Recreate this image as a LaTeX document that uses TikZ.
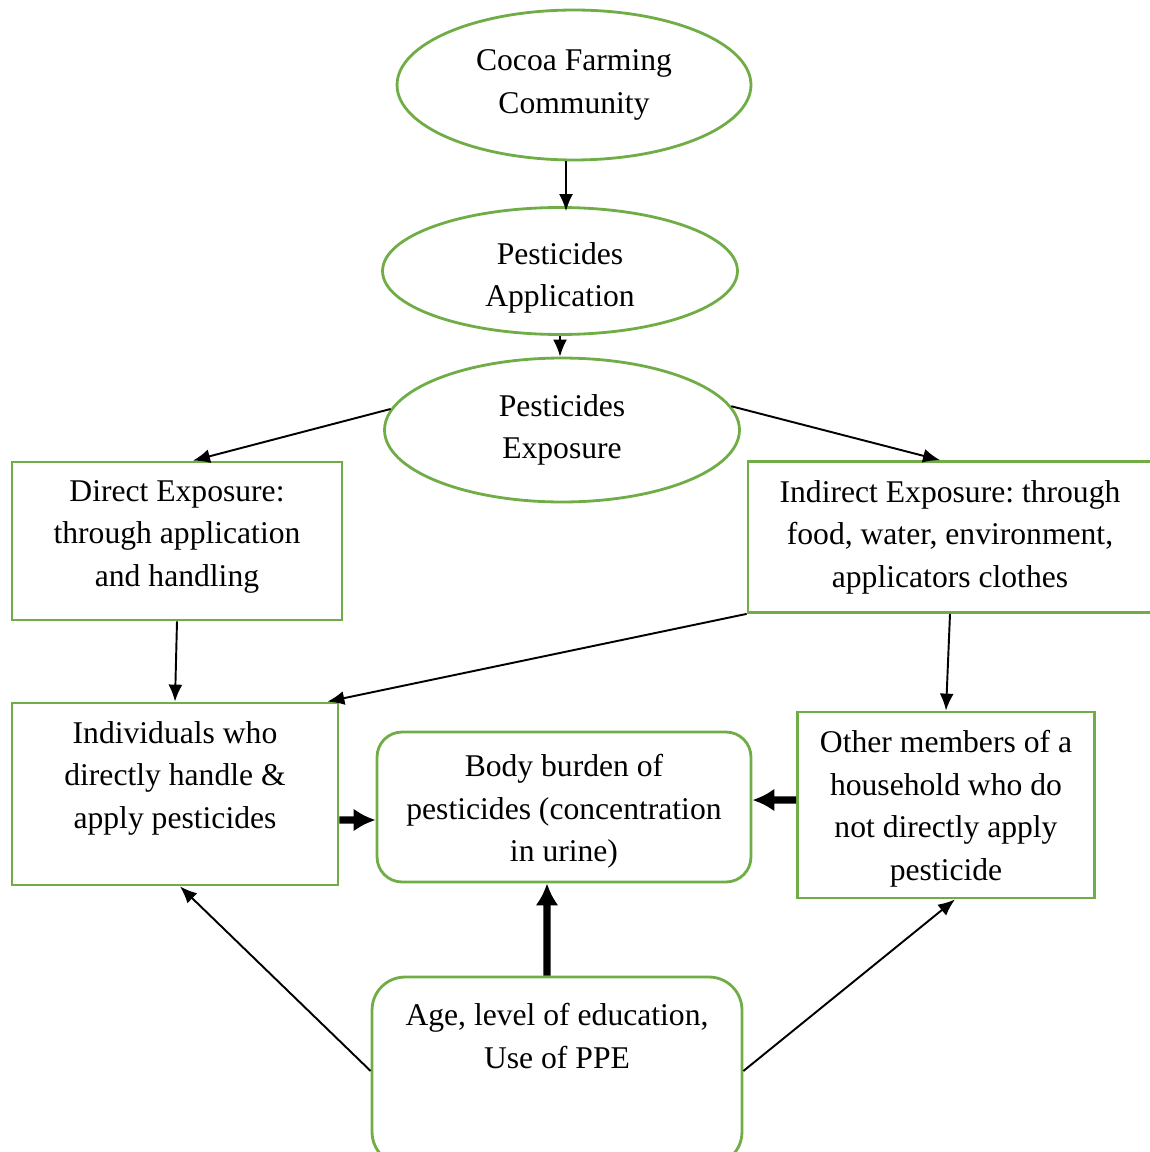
\documentclass[tikz,border=0pt]{standalone}
\usepackage{fontspec}
\setmainfont{Liberation Serif}
\usetikzlibrary{shapes.geometric,arrows.meta}
\definecolor{leafgreen}{RGB}{112,173,71}
\tikzset{
  oval/.style={draw=leafgreen,line width=1.6pt,ellipse,inner sep=0pt,align=center},
  flatbox/.style={draw=leafgreen,line width=1.6pt,rectangle,inner sep=0pt,align=center},
  roundbox/.style={flatbox,rounded corners=0.5cm},
  arr/.style={-{Latex[length=0.34cm,width=0.28cm]},line width=1.1pt},
  fatarr/.style={-{Latex[length=0.44cm,width=0.46cm]},line width=4pt},
}

\begin{document}
\frenchspacing
\begin{tikzpicture}[x=0.02cm,y=-0.02cm,font=\fontsize{18}{24.2}\selectfont]
      \useasboundingbox (0,0) rectangle (1149,1152);
      \node[oval,minimum width=7.08cm,minimum height=3cm] (cocoa) at (574,85) {Cocoa Farming\\Community};
      \node[oval,minimum width=7.1cm,minimum height=2.54cm,text height=44.5pt] (appl) at (560,271) {Pesticides\\Application};
      \node[oval,minimum width=7.1cm,minimum height=2.88cm] (expo) at (562,430) {Pesticides\\Exposure};

      \node[flatbox,minimum width=6.6cm,minimum height=3.16cm,text depth=9pt] (direct) at (177,541) {Direct Exposure:\\through application\\and handling};
      \node[flatbox,minimum width=8.08cm,minimum height=3.02cm] (indirect) at (950,537) {Indirect Exposure: through\\food, water, environment,\\applicators clothes};

      \node[flatbox,minimum width=6.52cm,minimum height=3.64cm,text depth=22pt] (indiv) at (175,794) {Individuals who\\directly handle \&\\apply pesticides};
      \node[roundbox,minimum width=7.48cm,minimum height=3cm,text height=66pt] (burden) at (564,807) {Body burden of\\pesticides (concentration\\in urine)};
      \node[flatbox,minimum width=5.94cm,minimum height=3.72cm,text height=89.5pt] (others) at (946,805) {Other members of a\\household who do\\not directly apply\\pesticide};

      \node[roundbox,rounded corners=0.66cm,minimum width=7.4cm,minimum height=3.76cm,text depth=40pt] (age) at (557,1071) {Age, level of education,\\Use of PPE};

      \draw[arr] ([xshift=-0.16cm]cocoa.south) -- ([xshift=-0.16cm,yshift=-0.1cm]cocoa.south |- appl.north);
      \draw[arr] (appl.south) -- (appl.south |- expo.north);
      \draw[arr] (expo.173) -- ([xshift=0.32cm]direct.north);
      \draw[arr] (expo.8) -- ([xshift=-0.2cm]indirect.north);
      \draw[arr] (direct.south) -- (indiv.north);
      \draw[arr] (indirect.south west) -- ([xshift=-0.24cm]indiv.north east);
      \draw[arr] (indirect.south) -- (others.north);

      \draw[fatarr] ([yshift=-0.52cm]indiv.east) -- ([yshift=-0.26cm]burden.west);
      \draw[fatarr] ([yshift=0.1cm]others.west) -- ([yshift=0.14cm]burden.east);
      \draw[fatarr] ([xshift=-0.2cm]age.north) -- ([xshift=-0.34cm]burden.south);

      \draw[arr] (age.west) -- ([xshift=0.1cm]indiv.south);
      \draw[arr] (age.east) -- ([xshift=0.18cm]others.south);
\end{tikzpicture}
\end{document}
